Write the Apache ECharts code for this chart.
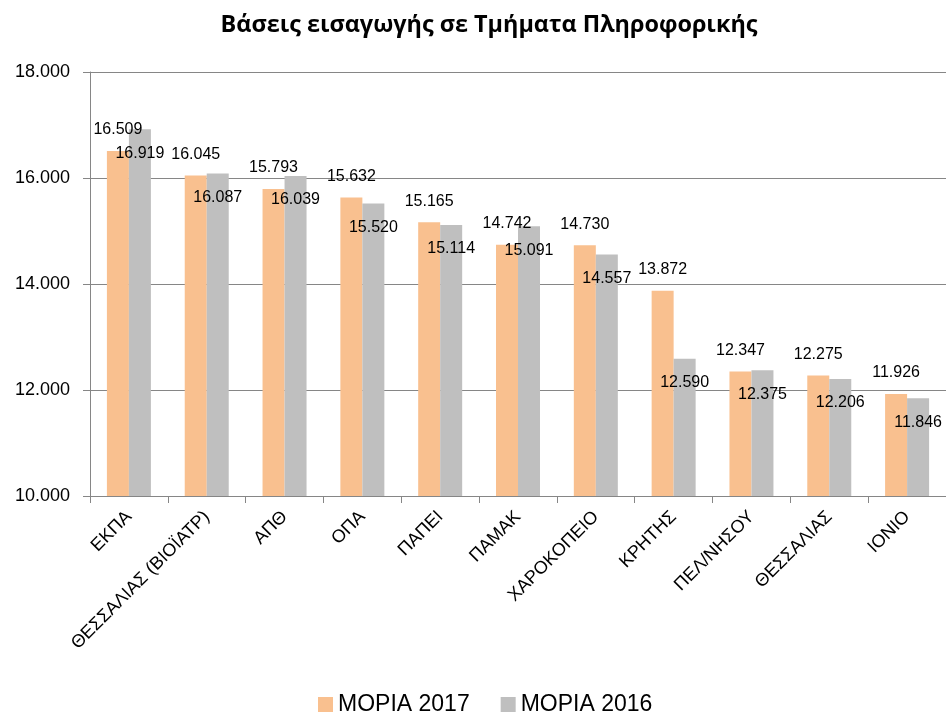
<!DOCTYPE html>
<html>
<head>
<meta charset="utf-8">
<script src="https://cdn.jsdelivr.net/npm/echarts@6/dist/echarts.min.js"></script>
<style>
html,body{margin:0;padding:0;background:#fff;}
#chart{width:946px;height:713px;}
</style>
</head>
<body>
<div id="chart"></div>
<script>
const categories = ['ΕΚΠΑ','ΘΕΣΣΑΛΙΑΣ (ΒΙΟΪΑΤΡ)','ΑΠΘ','ΟΠΑ','ΠΑΠΕΙ','ΠΑΜΑΚ','ΧΑΡΟΚΟΠΕΙΟ','ΚΡΗΤΗΣ','ΠΕΛ/ΝΗΣΟΥ','ΘΕΣΣΑΛΙΑΣ','ΙΟΝΙΟ'];
const moria2017 = [16509,16045,15793,15632,15165,14742,14730,13872,12347,12275,11926];
const moria2016 = [16919,16087,16039,15520,15114,15091,14557,12590,12375,12206,11846];
const yTicks = {min: 10000, max: 18000, interval: 2000};

function fmt(v){
  const s = String(Math.round(v));
  return s.replace(/\B(?=(\d{3})+(?!\d))/g, '.');
}
const FONT = 'Liberation Sans';
const chart = echarts.init(document.getElementById('chart'), null, {renderer:'canvas'});
chart.setOption({
  backgroundColor:'#ffffff',
  animation:false,
  title:{
    text:'Βάσεις εισαγωγής σε Τμήματα Πληροφορικής',
    left:484, textAlign:'center', top:9,
    textStyle:{fontFamily:'Open Sans', fontWeight:'bold', fontSize:23.4, color:'#000'}
  },
  legend:{
    left:313, top:688,
    itemWidth:15, itemHeight:15, itemGap:31,
    icon:'rect',
    textStyle:{fontFamily:FONT, fontSize:23, color:'#000'},
    data:['ΜΟΡΙΑ 2017','ΜΟΡΙΑ 2016']
  },
  grid:{left:90, right:0, top:72, bottom:217, containLabel:false},
  xAxis:{
    type:'category',
    data:categories,
    axisLine:{lineStyle:{color:'#868686', width:1}},
    axisTick:{show:true, alignWithLabel:false, length:7, lineStyle:{color:'#868686'}},
    axisLabel:{interval:0, rotate:45, margin:18, fontFamily:FONT, fontSize:18, color:'#000'}
  },
  yAxis:{
    type:'value',
    min:yTicks.min, max:yTicks.max, interval:yTicks.interval,
    axisLine:{show:true, lineStyle:{color:'#868686', width:1}},
    axisTick:{show:true, length:7, lineStyle:{color:'#868686'}},
    splitLine:{show:true, lineStyle:{color:'#868686', width:1}},
    axisLabel:{margin:20, fontFamily:FONT, fontSize:18, color:'#000', formatter:fmt}
  },
  series:[
    {
      name:'ΜΟΡΙΑ 2017', type:'bar', data:moria2017,
      barWidth:22, barGap:'0%',
      itemStyle:{color:'#F9C08F'},
      label:{show:true, position:'top', distance:13, fontFamily:FONT, fontSize:16, color:'#000',
        formatter:p=>fmt(p.value)}
    },
    {
      name:'ΜΟΡΙΑ 2016', type:'bar', data:moria2016,
      barWidth:22, barGap:'0%',
      itemStyle:{color:'#BFBFBF'},
      label:{show:true, position:'insideTop', distance:16, fontFamily:FONT, fontSize:16, color:'#000',
        formatter:p=>fmt(p.value)}
    }
  ]
});
</script>
</body>
</html>
